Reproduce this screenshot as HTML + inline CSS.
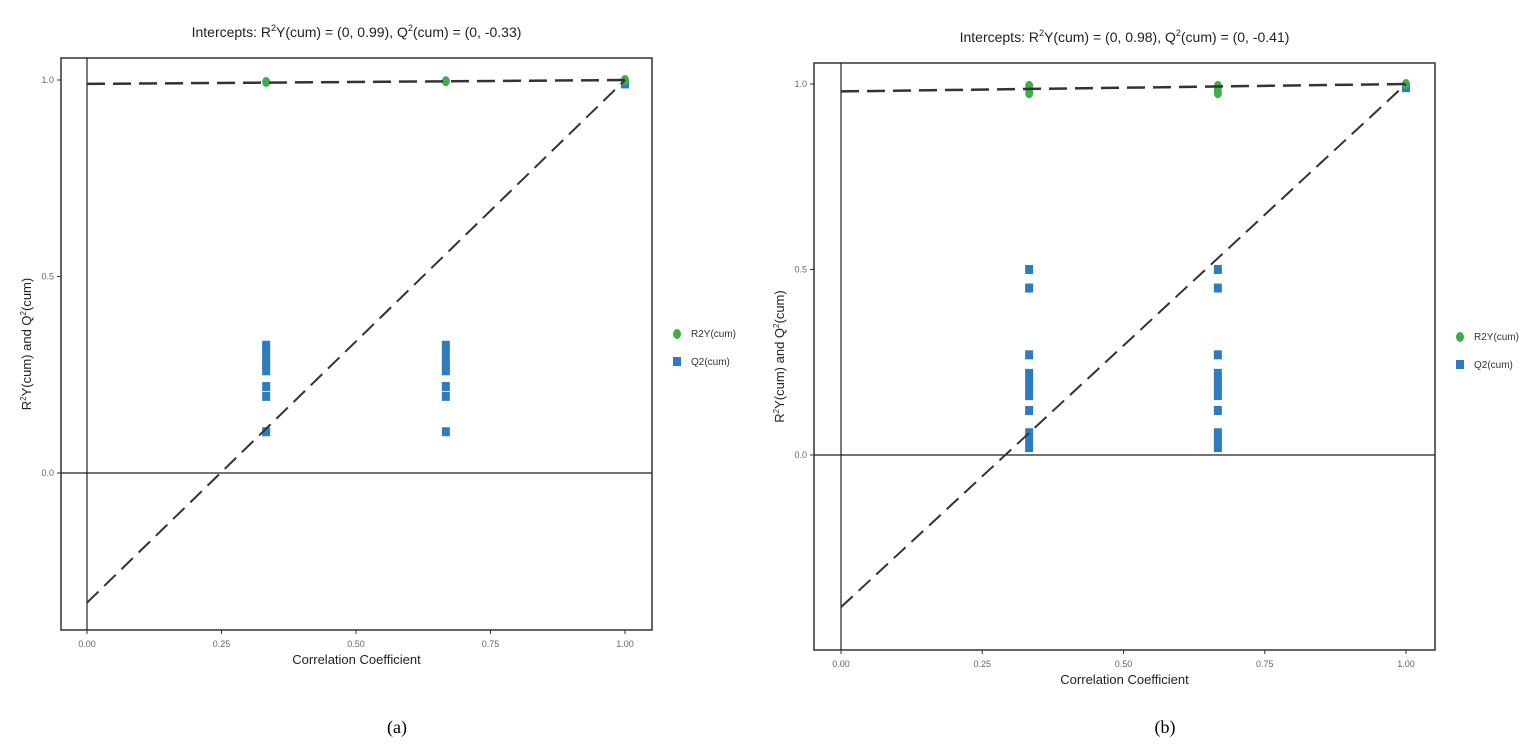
<!DOCTYPE html>
<html><head><meta charset="utf-8"><style>
body{margin:0;background:#fff;width:1535px;height:747px;overflow:hidden}
svg{font-family:"Liberation Sans",sans-serif}
</style></head><body>
<svg id="s" width="1535" height="747"></svg>
<script>
const xTicks=[0,0.25,0.5,0.75,1];
const xTickLabels=["0.00","0.25","0.50","0.75","1.00"];
const yTicks=[0,0.5,1];
const yTickLabels=["0.0","0.5","1.0"];
const aR2x=[0.333,0.667,1];
const aR2y=[0.995,0.997,1.0];
const aQ2x=[0.333,0.333,0.333,0.333,0.333,0.333,0.333,0.333,0.667,0.667,0.667,0.667,0.667,0.667,0.667,0.667,1];
const aQ2y=[0.325,0.31,0.29,0.275,0.26,0.22,0.195,0.105,0.325,0.31,0.29,0.275,0.26,0.22,0.195,0.105,0.99];
const aInt=[0.99,-0.33];
const bR2x=[0.333,0.333,0.333,0.667,0.667,0.667,1];
const bR2y=[0.975,0.985,0.995,0.975,0.985,0.995,1.0];
const bQ2x=[0.333,0.333,0.333,0.333,0.333,0.333,0.333,0.333,0.333,0.333,0.333,0.667,0.667,0.667,0.667,0.667,0.667,0.667,0.667,0.667,0.667,0.667,1];
const bQ2y=[0.5,0.45,0.27,0.22,0.2,0.18,0.16,0.12,0.06,0.04,0.02,0.5,0.45,0.27,0.22,0.2,0.18,0.16,0.12,0.06,0.04,0.02,0.99];
const bInt=[0.98,-0.41];
const svg=document.getElementById('s');
const NS='http://www.w3.org/2000/svg';
function mk(t,a,p){const e=document.createElementNS(NS,t);for(const k in a)e.setAttribute(k,a[k]);(p||svg).appendChild(e);return e;}
function panel(P,name,title,r2x,r2y,q2x,q2y,intc,cap){
 const g=mk('g',{});
 
 
 const X=v=>P.x0+(P.x1-P.x0)*v, Y=v=>P.y0+(P.y1-P.y0)*v;
 const t=mk('text',{x:(P.bl+P.br)/2,y:P.bt-21,'text-anchor':'middle','font-size':14,fill:'#222'},g);
 t.innerHTML='Intercepts: R<tspan dy="-6" font-size="9">2</tspan><tspan dy="6">Y(cum) = (0, '+title[0]+'), Q</tspan><tspan dy="-6" font-size="9">2</tspan><tspan dy="6">(cum) = (0, '+title[1]+')</tspan>';
 
 const box=mk('rect',{x:P.bl,y:P.bt,width:P.br-P.bl,height:P.bb-P.bt,fill:'none',stroke:'#333','stroke-width':1.5},g);
 
 mk('line',{x1:X(0),x2:X(0),y1:P.bt,y2:P.bb,stroke:'#222','stroke-width':1.2},g);
 mk('line',{x1:P.bl,x2:P.br,y1:Y(0),y2:Y(0),stroke:'#222','stroke-width':1.2},g);
 xTicks.forEach((v,i)=>{mk('line',{x1:X(v),x2:X(v),y1:P.bb,y2:P.bb+4,stroke:'#333'},g);
  const l=mk('text',{x:X(v),y:P.bb+17,'text-anchor':'middle','font-size':9,fill:'#666'},g);l.textContent=xTickLabels[i];
  });
 yTicks.forEach((v,i)=>{mk('line',{x1:P.bl-4,x2:P.bl,y1:Y(v),y2:Y(v),stroke:'#333'},g);
  const l=mk('text',{x:P.bl-7,y:Y(v)+3,'text-anchor':'end','font-size':9,fill:'#666'},g);l.textContent=yTickLabels[i];
  });
 const xl=mk('text',{x:(P.bl+P.br)/2,y:P.bb+34,'text-anchor':'middle','font-size':13,fill:'#222'},g);xl.textContent='Correlation Coefficient';
 
 const yl=mk('text',{transform:`translate(${P.bl-30},${(P.bt+P.bb)/2}) rotate(-90)`,'text-anchor':'middle','font-size':13,fill:'#222'},g);
 yl.innerHTML='R<tspan dy="-5" font-size="8">2</tspan><tspan dy="5">Y(cum) and Q</tspan><tspan dy="-5" font-size="8">2</tspan><tspan dy="5">(cum)</tspan>';
 
 q2x.forEach((v,i)=>{const r=mk('rect',{x:X(v)-4,y:Y(q2y[i])-4.5,width:8,height:9,fill:'#2f7bbf'},g);
  });
 r2x.forEach((v,i)=>{const c=mk('ellipse',{cx:X(v),cy:Y(r2y[i]),rx:4,ry:5,fill:'#3fae49'},g);
  });
 const l1=mk('line',{x1:X(0),y1:Y(intc[0]),x2:X(1),y2:Y(1),stroke:'#333','stroke-width':2.5,'stroke-dasharray':'18 8'},g);
 
 const l2=mk('line',{x1:X(0),y1:Y(intc[1]),x2:X(1),y2:Y(1),stroke:'#333','stroke-width':2,'stroke-dasharray':'16 8'},g);
 
 const lg=mk('g',{},g);
 mk('ellipse',{cx:P.lx,cy:P.ly,rx:4,ry:5,fill:'#3fae49'},lg);
 let tt=mk('text',{x:P.lx+14,y:P.ly+3,'font-size':10,fill:'#333'},lg);tt.textContent='R2Y(cum)';
 mk('rect',{x:P.lx-4,y:P.ly+23,width:8,height:9,fill:'#2f7bbf'},lg);
 tt=mk('text',{x:P.lx+14,y:P.ly+31,'font-size':10,fill:'#333'},lg);tt.textContent='Q2(cum)';
 const c=mk('text',{x:P.cx,y:733,'text-anchor':'middle','font-size':18,'font-family':'Liberation Serif',fill:'#000'},g);c.textContent=cap;
 
}
panel({x0:87,x1:625,y0:473,y1:80,bl:61,br:652,bt:58,bb:630,lx:677,ly:334,cx:397},'panel-a',['0.99','-0.33'],aR2x,aR2y,aQ2x,aQ2y,aInt,'(a)');
panel({x0:841,x1:1406,y0:455,y1:84,bl:814,br:1435,bt:63,bb:650,lx:1460,ly:337,cx:1165},'panel-b',['0.98','-0.41'],bR2x,bR2y,bQ2x,bQ2y,bInt,'(b)');
</script>
</body></html>
